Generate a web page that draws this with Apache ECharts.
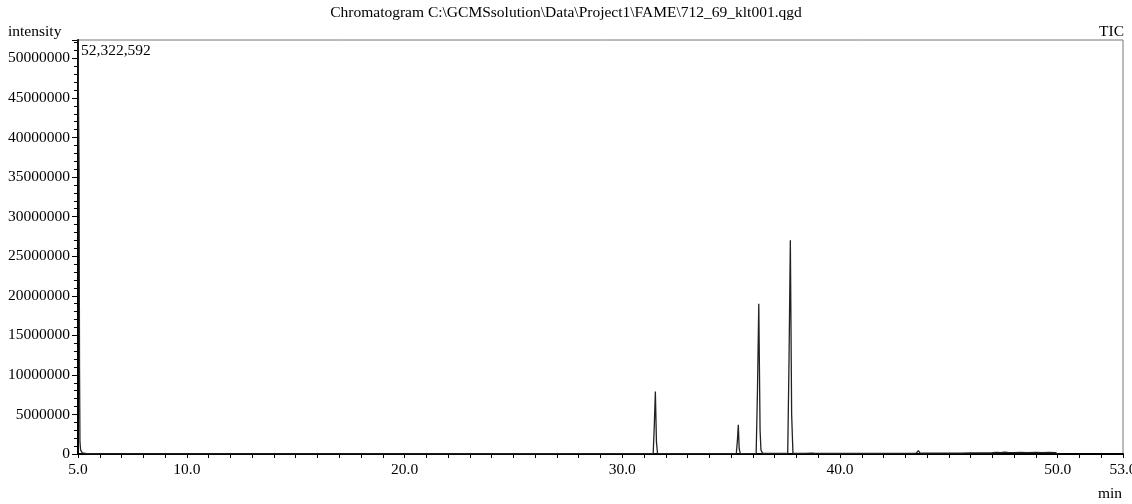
<!DOCTYPE html>
<html>
<head>
<meta charset="utf-8">
<script src="https://cdn.jsdelivr.net/npm/echarts@6/dist/echarts.min.js"></script>
<style>
html,body{margin:0;padding:0;background:#fff;}
#chart{width:1132px;height:504px;}
</style>
</head>
<body>
<div id="chart"></div>
<script>
// Retention time (min) and TIC intensity
const times = [
  5.00, 5.03, 5.05, 5.07, 5.09, 5.12, 5.20, 5.40, 6.00, 10.0, 15.0, 20.0, 25.0, 28.0, 30.0,
  31.42, 31.47, 31.52, 31.57, 31.62, 32.5, 33.5, 34.5,
  35.24, 35.29, 35.33, 35.37, 35.42,
  36.15, 36.21, 36.27, 36.33, 36.37, 36.40, 36.45,
  37.60, 37.66, 37.72, 37.78, 37.84,
  38.40, 38.70, 38.74, 38.80, 39.30, 39.35, 39.60, 39.65, 40.5, 41.85, 41.90, 41.95,
  43.50, 43.60, 43.68, 44.55, 44.60, 44.68, 45.45, 45.50, 45.58, 46.00, 46.55, 46.60, 46.68,
  47.00, 47.20, 47.40, 47.55, 47.62, 47.70, 48.00, 48.30, 48.60, 49.00, 49.30, 49.60, 49.90, 50.00
];
const intensity = [
  52322592, 42000000, 36000000, 11000000, 1500000, 500000, 150000, 60000, 30000, 20000, 20000, 20000, 30000, 40000, 50000,
  60000, 3500000, 7900000, 1500000, 60000, 60000, 60000, 60000,
  60000, 1800000, 3700000, 700000, 60000,
  80000, 8000000, 19000000, 3000000, 500000, 400000, 80000,
  90000, 12000000, 27000000, 5000000, 90000,
  90000, 120000, 250000, 100000, 90000, 150000, 90000, 140000, 90000, 90000, 180000, 90000,
  100000, 420000, 100000, 110000, 220000, 110000, 120000, 200000, 120000, 130000, 140000, 220000, 140000,
  160000, 190000, 170000, 250000, 500000, 200000, 180000, 210000, 170000, 200000, 180000, 210000, 170000, 0
];
const xLabelValues = [5, 10, 20, 30, 40, 50, 53];
const titleText = 'Chromatogram C:\\GCMSsolution\\Data\\Project1\\FAME\\712_69_klt001.qgd';
const maxLabel = '52,322,592';

const chart = echarts.init(document.getElementById('chart'), null, {renderer: 'canvas'});
const serif = '"Liberation Serif", "DejaVu Serif", serif';
const data = times.map((t, i) => [t, intensity[i]]);

chart.setOption({
  animation: false,
  backgroundColor: '#fff',
  grid: {left: 78, right: 9, top: 40, bottom: 50, show: true, borderColor: '#777', borderWidth: 1,
         containLabel: false, outerBoundsMode: 'none'},
  graphic: [
    {type: 'text', left: 'center', top: 5, style: {text: titleText, font: '15.5px ' + serif, fill: '#000'}},
    {type: 'text', left: 8, top: 24, style: {text: 'intensity', font: '15.5px ' + serif, fill: '#000'}},
    {type: 'text', right: 8, top: 24, style: {text: 'TIC', font: '15.5px ' + serif, fill: '#000'}},
    {type: 'text', left: 81, top: 43, style: {text: maxLabel, font: '15.5px ' + serif, fill: '#000'}},
    {type: 'text', right: 10, top: 486, style: {text: 'min', font: '15.5px ' + serif, fill: '#000'}}
  ],
  xAxis: {
    type: 'value', min: 5, max: 53, interval: 1,
    axisLine: {onZero: false, lineStyle: {color: '#000', width: 2}},
    axisTick: {show: true, length: 4, lineStyle: {color: '#000'}},
    splitLine: {show: false},
    axisLabel: {
      showMaxLabel: true, showMinLabel: true, margin: 8, color: '#000',
      fontFamily: serif, fontSize: 15.5, hideOverlap: false,
      formatter: v => xLabelValues.indexOf(Math.round(v)) >= 0 && Math.abs(v - Math.round(v)) < 1e-6 ? v.toFixed(1) : ''
    }
  },
  yAxis: {
    type: 'value', min: 0, max: 52322592, interval: 5000000,
    axisLine: {show: true, lineStyle: {color: '#000', width: 2}},
    axisTick: {show: true, length: 6, lineStyle: {color: '#000'}},
    minorTick: {show: true, splitNumber: 5, length: 4, lineStyle: {color: '#000'}},
    splitLine: {show: false},
    axisLabel: {
      showMaxLabel: false, margin: 8, color: '#000', fontFamily: serif, fontSize: 15.5,
      formatter: v => (v % 5000000 === 0 ? String(v) : '')
    }
  },
  series: [{
    type: 'line', data: data, showSymbol: false, symbol: 'none',
    lineStyle: {color: '#222', width: 1.3}, clip: true
  }]
});
</script>
</body>
</html>
